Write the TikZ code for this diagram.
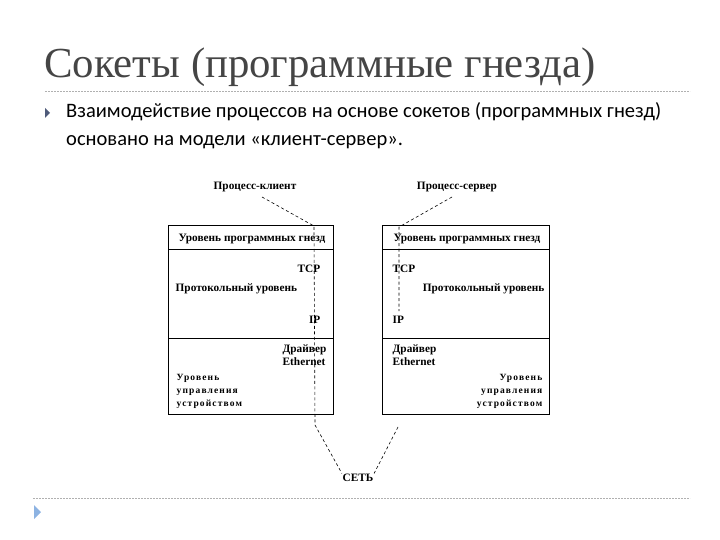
\documentclass[tikz,border=0pt]{standalone}
\usepackage{fontspec}
\setmainfont{Liberation Serif}
\newfontfamily\bodyfont{Carlito}
\newfontfamily\titlefont{Liberation Serif}
\definecolor{titlegray}{HTML}{454545}
\definecolor{bulletblue}{HTML}{4F5B7A}
\definecolor{lightblue}{HTML}{8DB3E2}
\definecolor{rulegray}{HTML}{B0B0B0}
\begin{document}
\begin{tikzpicture}[x=1pt,y=-1pt,
  lbl/.style={font=\fontsize{11.3}{13}\selectfont\bfseries, inner sep=0.5pt},
  devlbl/.style={font=\fontsize{9.5}{13}\selectfont\bfseries\addfontfeature{LetterSpace=12}, inner sep=0.5pt},
  boxline/.style={draw=black, line width=0.9pt},
  dashlink/.style={draw=black, line width=0.6pt, dash pattern=on 3pt off 2.5pt},
  rulestyle/.style={draw=rulegray, line width=0.6pt, dash pattern=on 2pt off 1pt}]
\useasboundingbox (0,0) rectangle (720,540);
% title
\node[anchor=base west, inner sep=0, text=titlegray, font=\titlefont\fontsize{42.8}{48}\selectfont] (title) at (44,78) {Сокеты (программные гнезда)};
\draw[rulestyle] (45,91) -- (690,91);
% bullet
\fill[bulletblue] (45,108) -- (50,113) -- (45,118) -- cycle;
\node[anchor=base west, inner sep=0, font=\bodyfont\fontsize{20.5}{28}\selectfont] (body1) at (66,118)
 {Взаимодействие процессов на основе сокетов (программных гнезд)};
\node[anchor=base west, inner sep=0, font=\bodyfont\fontsize{20.5}{28}\selectfont] (body2) at (66,146)
 {основано на модели «клиент-сервер».};
% bottom rule and triangle
\draw[rulestyle] (33,498) -- (690,498);
\fill[lightblue] (34,505) -- (41,512) -- (34,519) -- cycle;

% boxes
\node[boxline, anchor=north west, minimum width=165pt, minimum height=189pt, inner sep=0] (lbox) at (168,225) {};
\node[boxline, anchor=north west, minimum width=167pt, minimum height=189pt, inner sep=0] (rbox) at (382,225) {};
\draw[boxline] (168,249) -- (333,249);
\draw[boxline] (168,338) -- (333,338);
\draw[boxline] (382,249) -- (549,249);
\draw[boxline] (382,338) -- (549,338);

% labels
\node[lbl] (pc) at (255,187) {Процесс-клиент};
\node[lbl] (ps) at (457,187) {Процесс-сервер};
\node[lbl] (net) at (358,478) {СЕТЬ};

% dashed connectors
\coordinate (l1) at (314,226);
\coordinate (l2) at (315,425);
\coordinate (r1) at (399,227);
\coordinate (r2) at (399,311);
\coordinate (r3) at (398,427);
\draw[dashlink] (262,197) -- (l1) -- (l2) -- (net.north west);
\draw[dashlink] (452,197) -- (r1) -- (r2);
\draw[dashlink] (r3) -- (net.north east);

\node[lbl, anchor=base] (lsock) at (252,241) {Уровень программных гнезд};
\node[lbl, anchor=base] (rsock) at (467,241) {Уровень программных гнезд};
\node[lbl, anchor=base east] (ltcp) at (321,272) {TCP};
\node[lbl, anchor=base west] (rtcp) at (392,272) {TCP};
\node[lbl, anchor=base west] (lproto) at (175,291) {Протокольный уровень};
\node[lbl, anchor=base east] (rproto) at (545,291) {Протокольный уровень};
\node[lbl, anchor=base east] (lip) at (321,323) {IP};
\node[lbl, anchor=base west] (rip) at (392,323) {IP};
\node[lbl, anchor=north east, align=left] (ldrv) at (327,344) {Драйвер\\Ethernet};
\node[lbl, anchor=north west, align=left] (rdrv) at (392,344) {Драйвер\\Ethernet};
\node[devlbl, anchor=north west, align=left] (ldev) at (176,374) {Уровень\\управления\\устройством};
\node[devlbl, anchor=north east, align=right] (rdev) at (543,374) {Уровень\\управления\\устройством};
\end{tikzpicture}
\end{document}
